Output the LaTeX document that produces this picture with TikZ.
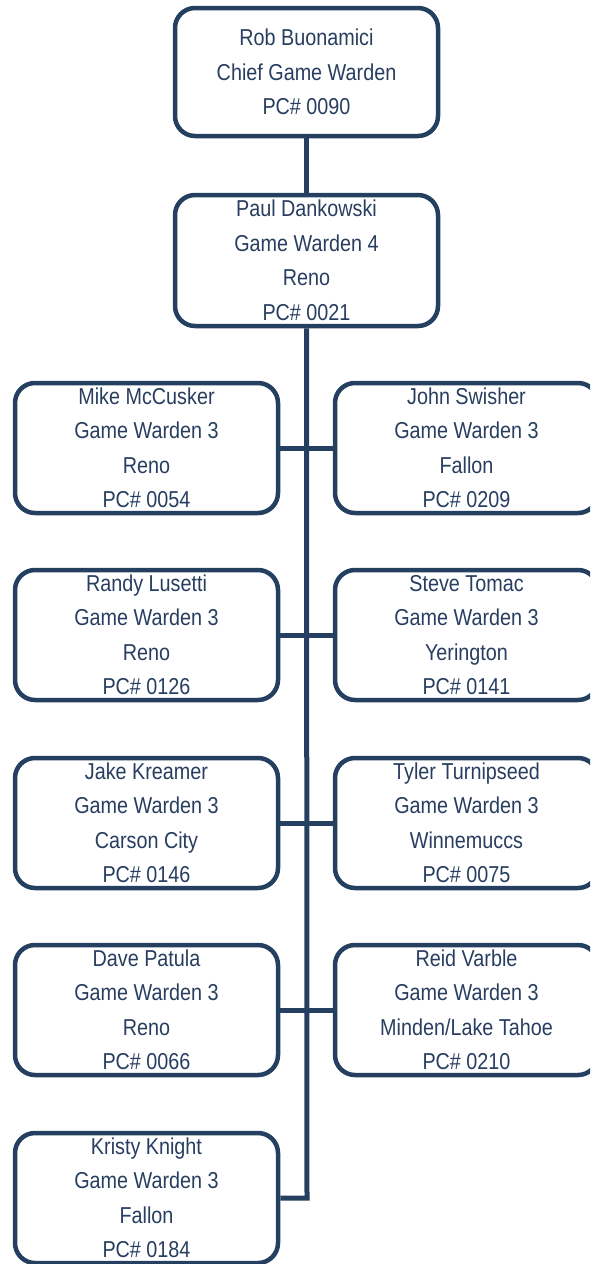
\documentclass[tikz,border=0pt]{standalone}
\usepackage{fontspec}
\setmainfont{Liberation Sans}[FakeStretch=0.86]
\definecolor{navy}{RGB}{36,63,96}
\definecolor{txt}{RGB}{40,62,96}
\begin{document}
\begin{tikzpicture}[x=1pt,y=-1pt,
  person/.style={draw=navy, line width=4.5pt, rounded corners=20pt, fill=white,
    minimum width=263pt, minimum height=130pt, inner sep=0pt, align=center,
    text=txt, font=\fontsize{23}{34.5}\selectfont},
  link/.style={draw=navy, line width=5pt}]
\useasboundingbox (0,0) rectangle (590,1264);
\clip (0,0) rectangle (590,1264);
\node[person, minimum height=128pt] (top) at (306.5,72) {Rob Buonamici\\Chief Game Warden\\PC\# 0090};
\node[person, minimum height=131pt] (p2) at (306.5,260.5) {Paul Dankowski\\Game Warden 4\\Reno\\PC\# 0021};
\node[person] (l1) at (146.5,448) {Mike McCusker\\Game Warden 3\\Reno\\PC\# 0054};
\node[person] (r1) at (466.5,448) {John Swisher\\Game Warden 3\\Fallon\\PC\# 0209};
\node[person] (l2) at (146.5,635) {Randy Lusetti\\Game Warden 3\\Reno\\PC\# 0126};
\node[person] (r2) at (466.5,635) {Steve Tomac\\Game Warden 3\\Yerington\\PC\# 0141};
\node[person] (l3) at (146.5,823) {Jake Kreamer\\Game Warden 3\\Carson City\\PC\# 0146};
\node[person] (r3) at (466.5,823) {Tyler Turnipseed\\Game Warden 3\\Winnemuccs\\PC\# 0075};
\node[person] (l4) at (146.5,1010) {Dave Patula\\Game Warden 3\\Reno\\PC\# 0066};
\node[person] (r4) at (466.5,1010) {Reid Varble\\Game Warden 3\\Minden/Lake Tahoe\\PC\# 0210};
\node[person] (l5) at (146.5,1198) {Kristy Knight\\Game Warden 3\\Fallon\\PC\# 0184};
\coordinate (j5) at (307,1198);
\draw[link] (top.south) -- (p2.north);
\draw[link] (p2.south) -- (j5) -- (l5.east);
\draw[link] (l1.east) -- (r1.west);
\draw[link] (l2.east) -- (r2.west);
\draw[link] (l3.east) -- (r3.west);
\draw[link] (l4.east) -- (r4.west);
\end{tikzpicture}
\end{document}
